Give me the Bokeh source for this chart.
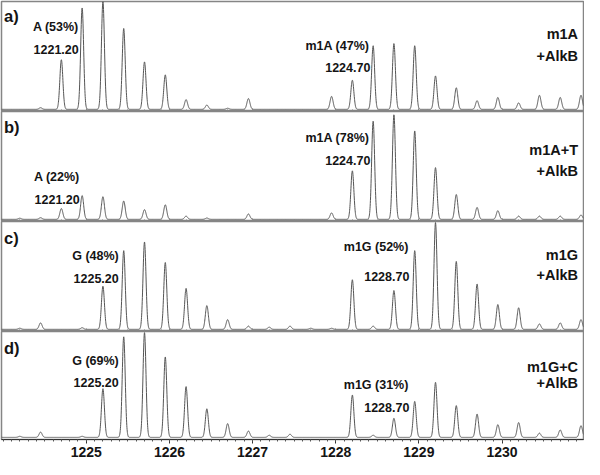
import numpy as np
from bokeh.plotting import figure
from bokeh.layouts import column
from bokeh.models import Range1d, FixedTicker, Label, ColumnDataSource
from bokeh.embed import file_html
from bokeh.resources import INLINE

# ---- data (m/z centroid, relative intensity) ----
mz_a = [1224.45, 1224.70, 1224.95, 1225.20, 1225.45, 1225.70, 1225.95, 1226.20, 1226.45, 1226.70, 1226.95,
        1227.95, 1228.20, 1228.45, 1228.70, 1228.95, 1229.20, 1229.45, 1229.70, 1229.95, 1230.20, 1230.45, 1230.70, 1230.95]
int_a = [0.015, 0.46, 0.94, 1.00, 0.75, 0.44, 0.32, 0.09, 0.04, 0.01, 0.10,
         0.12, 0.27, 0.59, 0.61, 0.59, 0.31, 0.20, 0.08, 0.11, 0.06, 0.13, 0.11, 0.13]

mz_b = [1224.20, 1224.45, 1224.70, 1224.95, 1225.20, 1225.45, 1225.70, 1225.95, 1226.20, 1226.45, 1226.95,
        1227.95, 1228.20, 1228.45, 1228.70, 1228.95, 1229.20, 1229.45, 1229.70, 1229.95, 1230.20, 1230.45, 1230.70, 1230.95]
int_b = [0.01, 0.015, 0.10, 0.22, 0.21, 0.17, 0.09, 0.135, 0.03, 0.012, 0.05,
         0.06, 0.45, 0.91, 0.97, 0.82, 0.48, 0.23, 0.11, 0.08, 0.03, 0.03, 0.03, 0.04]

mz_c = [1224.20, 1224.45, 1224.95, 1225.20, 1225.45, 1225.70, 1225.95, 1226.20, 1226.45, 1226.70, 1226.95,
        1227.20, 1227.45, 1227.70, 1227.95, 1228.20, 1228.45, 1228.70, 1228.95, 1229.20, 1229.45, 1229.70,
        1229.95, 1230.20, 1230.45, 1230.70, 1230.95]
int_c = [0.01, 0.06, 0.015, 0.40, 0.73, 0.81, 0.62, 0.38, 0.22, 0.09, 0.03,
         0.02, 0.03, 0.01, 0.01, 0.46, 0.03, 0.36, 0.73, 0.99, 0.63, 0.42,
         0.23, 0.20, 0.05, 0.06, 0.09]

mz_d = [1224.20, 1224.45, 1224.95, 1225.20, 1225.45, 1225.70, 1225.95, 1226.20, 1226.45, 1226.70, 1226.95,
        1227.20, 1227.45, 1228.20, 1228.45, 1228.70, 1228.95, 1229.20, 1229.45, 1229.70, 1229.95, 1230.20,
        1230.45, 1230.70, 1230.95]
int_d = [0.01, 0.05, 0.01, 0.46, 0.95, 0.99, 0.76, 0.48, 0.27, 0.13, 0.06,
         0.02, 0.03, 0.40, 0.02, 0.18, 0.34, 0.52, 0.30, 0.22, 0.12, 0.14,
         0.04, 0.07, 0.11]

tick_values = [1225, 1226, 1227, 1228, 1229, 1230]
minor_step = 0.1

panel_letters = ["a)", "b)", "c)", "d)"]
left_labels = [("A (53%)", "1221.20"), ("A (22%)", "1221.20"), ("G (48%)", "1225.20"), ("G (69%)", "1225.20")]
mid_labels = [("m1A (47%)", "1224.70"), ("m1A (78%)", "1224.70"), ("m1G (52%)", "1228.70"), ("m1G (31%)", "1228.70")]
right_labels = [("m1A", "+AlkB"), ("m1A+T", "+AlkB"), ("m1G", "+AlkB"), ("m1G+C", "+AlkB")]

FONT = "Liberation Sans"
TXT = "#141414"
LINE = "#555555"
FRAME = "#858585"
SIGMA = 0.018

X0, X1 = 1223.98, 1230.98
x_range = Range1d(X0, X1)
grid = np.linspace(X0, X1, 4000)
minor_ticks = [round(v, 2) for v in np.arange(1224.0, 1231.0 + 1e-9, minor_step)]


def profile(mz, inten):
    y = np.zeros_like(grid)
    for c, h in zip(mz, inten):
        y += h * np.exp(-0.5 * ((grid - c) / SIGMA) ** 2)
    return y


# label positions (x in m/z, y in relative intensity) per panel
pos_letter = [0.865, 0.856, 0.847, 0.847]
pos_left = [(1224.909, 0.762, 0.551), (1224.921, 0.393, 0.187), (1225.390, 0.681, 0.474), (1225.390, 0.726, 0.515)]
pos_mid = [(1228.405, 0.587, 0.384), (1228.405, 0.757, 0.546), (1228.874, 0.762, 0.492), (1228.874, 0.492, 0.281)]
pos_right = [(0.699, 0.497), (0.645, 0.452), (0.694, 0.501), (0.667, 0.510)]

data = [(mz_a, int_a), (mz_b, int_b), (mz_c, int_c), (mz_d, int_d)]
heights = [111, 110, 110, 128]
figs = []
for i, (mz, inten) in enumerate(data):
    last = i == 3
    p = figure(width=584, height=heights[i], x_range=x_range, y_range=Range1d(-0.02, 1.0),
               output_backend="svg", toolbar_location=None,
               min_border_left=1, min_border_right=1, min_border_top=1 if i == 0 else 0,
               min_border_bottom=0)
    p.grid.visible = False
    p.yaxis.visible = False
    p.outline_line_color = FRAME
    p.outline_line_width = 1.5
    p.background_fill_color = "white"
    p.border_fill_color = "white"

    src = ColumnDataSource(dict(x=grid, y=profile(mz, inten)))
    p.line("x", "y", source=src, line_color=LINE, line_width=1)

    ax = p.xaxis[0]
    ax.ticker = FixedTicker(ticks=tick_values, minor_ticks=minor_ticks)
    if last:
        ax.axis_line_color = "#333333"
        ax.axis_line_width = 1.2
        ax.major_tick_line_color = "#333333"
        ax.minor_tick_line_color = "#555555"
        ax.major_tick_in = 0
        ax.major_tick_out = 4
        ax.minor_tick_in = 0
        ax.minor_tick_out = 2
        ax.major_label_standoff = 3
        ax.major_label_text_font = FONT
        ax.major_label_text_font_style = "bold"
        ax.major_label_text_font_size = "14px"
        ax.major_label_text_color = TXT
    else:
        ax.axis_line_color = FRAME
        ax.axis_line_width = 2.5
        ax.major_tick_line_color = FRAME
        ax.minor_tick_line_color = FRAME
        ax.major_tick_in = 3
        ax.major_tick_out = 0
        ax.minor_tick_in = 2
        ax.minor_tick_out = 0
        ax.major_label_standoff = 0
        ax.major_label_overrides = {t: "" for t in tick_values}

    def lab(x, y, t, size, align="right"):
        p.add_layout(Label(x=x, y=y, text=t, text_align=align, text_baseline="middle",
                           text_font=FONT, text_font_style="bold", text_font_size=size,
                           text_color=TXT))

    lab(1224.01, pos_letter[i], panel_letters[i], "16.5px", align="left")
    lx, ly1, ly2 = pos_left[i]
    lab(lx, ly1, left_labels[i][0], "12.5px")
    lab(lx, ly2, left_labels[i][1], "12.5px")
    mx, my1, my2 = pos_mid[i]
    lab(mx, my1, mid_labels[i][0], "12.5px")
    lab(mx + 0.012, my2, mid_labels[i][1], "12.5px")
    ry1, ry2 = pos_right[i]
    lab(1230.915, ry1, right_labels[i][0], "14.5px")
    lab(1230.915, ry2, right_labels[i][1], "14.5px")
    figs.append(p)

layout = column(*figs, spacing=0)
open("out.html", "w").write(file_html(layout, INLINE))
